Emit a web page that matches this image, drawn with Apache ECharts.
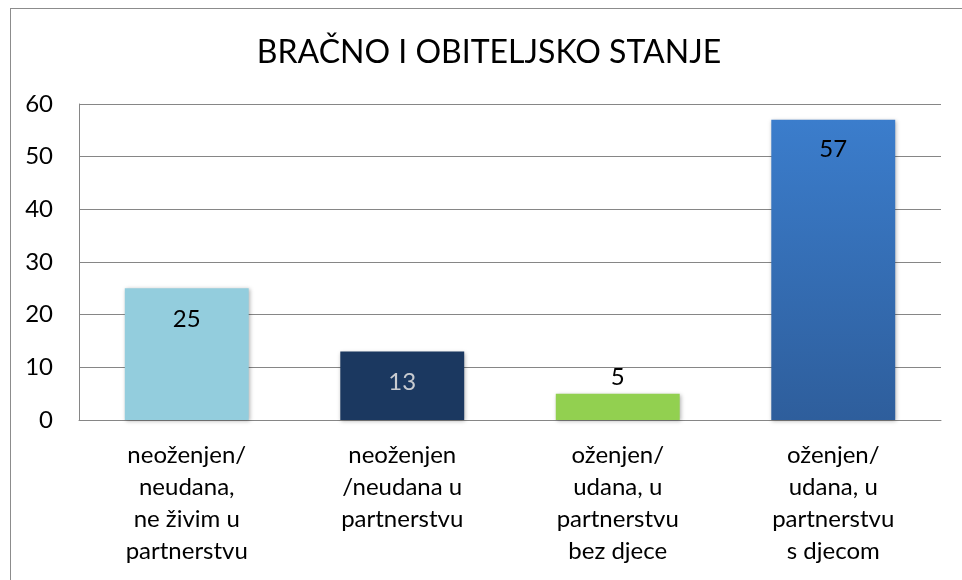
<!DOCTYPE html>
<html>
<head>
<meta charset="utf-8">
<script src="https://cdn.jsdelivr.net/npm/echarts@6/dist/echarts.min.js"></script>
<style>
html,body{margin:0;padding:0;background:#fff;overflow:hidden;}
.frame{
  position:absolute;
  left:10px;
  top:8px;
  width:1000px;
  height:640px;
  border-left:1px solid #8c8c8c;
  border-top:1px solid #8c8c8c;
}
#main{position:absolute;left:0;top:0;width:962px;height:580px;}
</style>
</head>
<body>
<div class="frame"></div>
<div id="main"></div>
<script>
// data
const categories = [
  'neoženjen/\nneudana,\nne živim u\npartnerstvu',
  'neoženjen\n/neudana u\npartnerstvu',
  'oženjen/\nudana, u\npartnerstvu\nbez djece',
  'oženjen/\nudana, u\npartnerstvu\ns djecom'
];
const values = [25, 13, 5, 57];
const yTicks = [0, 10, 20, 30, 40, 50, 60];

const font = 'Lato, "Open Sans", sans-serif';

// one look per bar
const barColors = [
  '#93cddd',
  '#1b3860',
  '#92d050',
  new echarts.graphic.LinearGradient(0, 0, 0, 1, [
    {offset: 0, color: '#3b7dcc'},
    {offset: 1, color: '#2e5e9c'}
  ])
];
const labelLooks = [
  {position: 'insideTop', distance: 19, color: '#000'},
  {position: 'insideTop', distance: 19, color: '#c9ccd1'},
  {position: 'top', distance: 4, color: '#000'},
  {position: 'insideTop', distance: 17, color: '#000'}
];

let chart = echarts.init(document.getElementById('main'));
let option = {
  animation: false,
  title: {
    text: 'BRAČNO I OBITELJSKO STANJE',
    left: 484,
    textAlign: 'center',
    top: 32,
    textStyle: {fontFamily: font, fontSize: 32, fontWeight: 'normal', color: '#000'}
  },
  grid: {left: 79, right: 21, top: 104, bottom: 160},
  xAxis: {
    type: 'category',
    data: categories,
    axisTick: {show: false},
    axisLine: {lineStyle: {color: '#868686', width: 1}},
    axisLabel: {
      interval: 0,
      margin: 19,
      fontFamily: font,
      fontSize: 24,
      lineHeight: 32,
      color: '#000'
    }
  },
  yAxis: {
    type: 'value',
    min: yTicks[0],
    max: yTicks[yTicks.length - 1],
    interval: 10,
    axisLine: {show: true, lineStyle: {color: '#868686', width: 1}},
    axisTick: {show: false},
    splitLine: {lineStyle: {color: '#868686', width: 1}},
    axisLabel: {margin: 26, fontFamily: font, fontSize: 24, color: '#000'}
  },
  series: [{
    type: 'bar',
    barWidth: '57.5%',
    data: values.map((v, i) => ({
      value: v,
      itemStyle: {
        color: barColors[i],
        shadowBlur: 4,
        shadowColor: 'rgba(0,0,0,0.3)',
        shadowOffsetX: 1,
        shadowOffsetY: 1
      },
      label: {
        show: true,
        position: labelLooks[i].position,
        distance: labelLooks[i].distance,
        color: labelLooks[i].color,
        fontFamily: font,
        fontSize: 24
      }
    }))
  }]
};
chart.setOption(option);
</script>
</body>
</html>
